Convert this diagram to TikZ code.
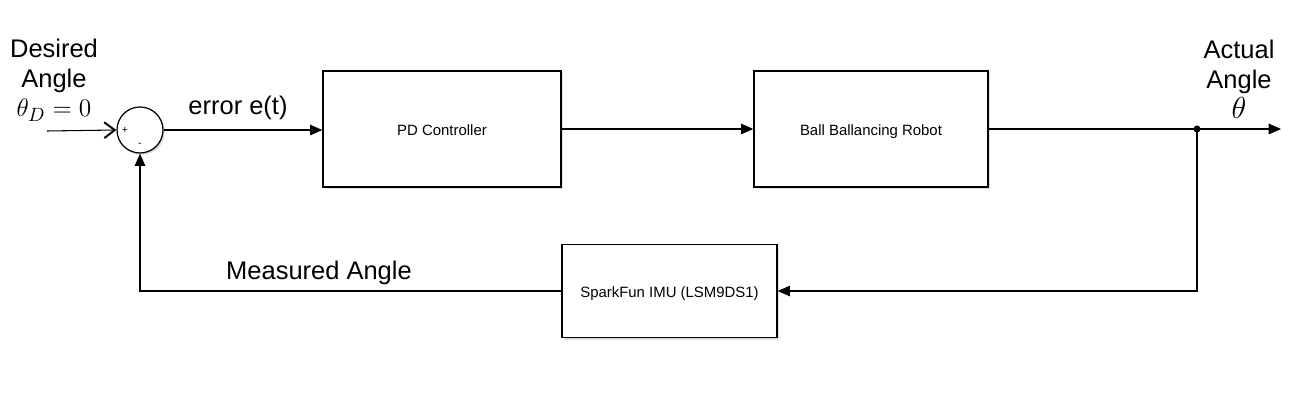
\documentclass[tikz,border=0pt]{standalone}
\usepackage{fontspec}
\setmainfont{Liberation Sans}
\usepackage{amsmath}
\usetikzlibrary{positioning, arrows.meta, shadows}

\tikzset{
  block/.style={draw, line width=0.8pt, fill=white, font=\fontsize{8.5}{10}\selectfont,
                text height=1.6ex, text depth=0.3ex,
                drop shadow={opacity=0.25, shadow xshift=1.2pt, shadow yshift=-1.2pt}},
  sumnode/.style={draw, circle, line width=0.7pt, minimum size=0.92cm, inner sep=0pt, fill=white,
                drop shadow={opacity=0.3, shadow xshift=1pt, shadow yshift=-1pt}},
  sig/.style={line width=0.6pt, -{Triangle[length=7pt, width=6pt]}},
  big/.style={font=\fontsize{14.5}{17}\selectfont, align=center}
}

\begin{document}
\begin{tikzpicture}[x=0.02cm, y=-0.02cm]
        \useasboundingbox (0,0) rectangle (1295,412);
        % blocks
        \node[sumnode] (sum) at (140,130) {};
        \node[font=\fontsize{6}{6}\selectfont] at (125,130) {+};
        \node[font=\fontsize{6}{6}\selectfont] at (140,145) {-};
        \node[block, minimum width=4.76cm, minimum height=2.32cm] (pd) at (442,129) {PD Controller};
        \node[block, minimum width=4.68cm, minimum height=2.32cm] (robot) at (871,129) {Ball Ballancing Robot};
        \node[block, minimum width=4.3cm, minimum height=1.86cm] (imu) at (669.5,291) {SparkFun IMU (LSM9DS1)};
        % points
        \coordinate (in) at (47,131);
        \coordinate (out) at (1281,129);
        \coordinate (branch) at (1197,129);
        \coordinate (br) at (1197,291);
        \coordinate (bl) at (140,291);
        \fill (branch) circle (3.5);
        % signals
        \draw[line width=0.6pt, -{Straight Barb[length=6pt, width=9pt, line width=1.1pt]}] (in) -- (sum.west);
        \draw[sig] (sum.east) -- (sum.east -| pd.west);
        \draw[sig] (pd.east) -- (pd.east -| robot.west);
        \draw[sig] (robot.east) -- (out);
        \draw[sig] (branch) -- (br) -- (imu.east);
        \draw[sig] (imu.west) -- (bl) -- (sum.south);
        % labels
        \node[big] (desired) at (54,80) {Desired\\Angle\\{\fontsize{15.5}{17}\selectfont$\theta_D=0$}};
        \node[big] (actual) at (1239,79) {Actual\\Angle\\{\fontsize{17}{17}\selectfont$\theta$}};
        \node[big] (err) at (238,108) {error e(t)};
        \node[big] (meas) at (319,273) {Measured Angle};
\end{tikzpicture}
\end{document}
